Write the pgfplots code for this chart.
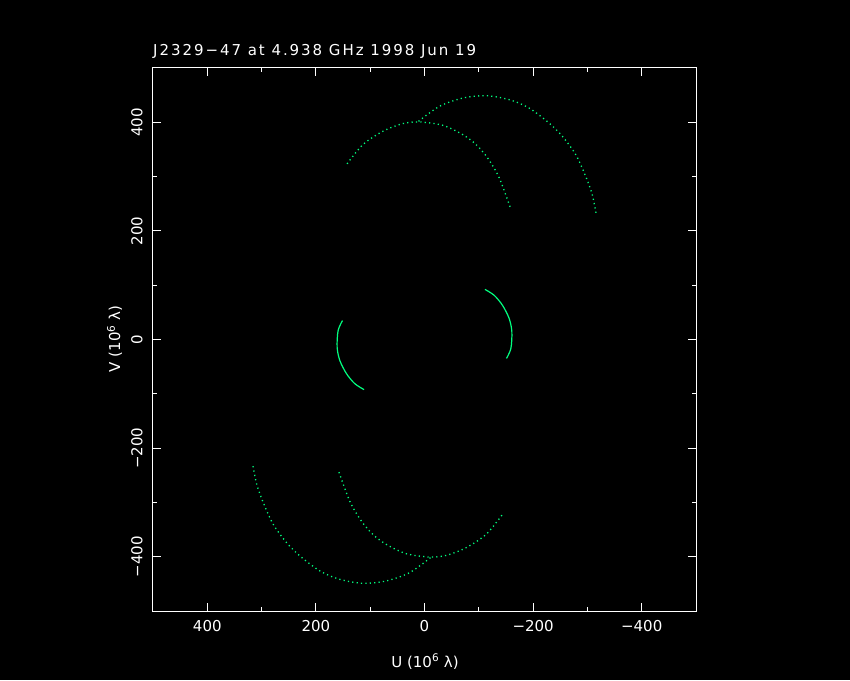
\documentclass[border=0pt]{standalone}
\usepackage{fontspec}
\setmainfont{DejaVu Sans}
\usepackage{pgfplots}
\pgfplotsset{compat=1.18}
\definecolor{uvgreen}{RGB}{0,255,128}

% upper tracks (pixel-read), lower tracks are the conjugate points (-u,-v)
\pgfplotstableread{
u v
142.6 323.5
113.2 359.1
76.5 383.5
39.8 397.6
9.2 400.6
-33.6 394.5
-70.3 377.4
-94.9 359.1
-116.1 334.5
-137.6 297.8
-159.1 239.8
}\arcA
\pgfplotstableread{
u v
-142.6 -323.5
-113.2 -359.1
-76.5 -383.5
-39.8 -397.6
-9.2 -400.6
33.6 -394.5
70.3 -377.4
94.9 -359.1
116.1 -334.5
137.6 -297.8
159.1 -239.8
}\arcAc
\pgfplotstableread{
u v
11.0 401.8
-27.5 429.4
-70.3 444.6
-113.2 449.0
-156.0 441.7
-192.7 426.2
-229.4 398.7
-253.8 374.3
-278.4 340.7
-296.7 300.9
-308.8 267.3
-316.9 227.5
}\arcB
\pgfplotstableread{
u v
-11.0 -401.8
27.5 -429.4
70.3 -444.6
113.2 -449.0
156.0 -441.7
192.7 -426.2
229.4 -398.7
253.8 -374.3
278.4 -340.7
296.7 -300.9
308.8 -267.3
316.9 -227.5
}\arcBc
\pgfplotstableread{
u v
151.0 34.9
159.1 16.5
160.9 -14.1
156.0 -38.5
143.7 -62.9
128.4 -81.3
111.3 -92.3
}\arcC
\pgfplotstableread{
u v
-151.0 -34.9
-159.1 -16.5
-160.9 14.1
-156.0 38.5
-143.7 62.9
-128.4 81.3
-111.3 92.3
}\arcCc

\begin{document}
\begin{tikzpicture}
\useasboundingbox (0,0) rectangle (850pt,680pt);
\fill[black] (0,0) rectangle (850pt,680pt);
\begin{axis}[
    at={(153pt,69pt)}, anchor=south west,
    scale only axis, width=543pt, height=543pt,
    xmin=-500, xmax=500, ymin=-500, ymax=500,
    x dir=reverse,
    axis line style={white, line width=1pt},
    xtick={400,200,0,-200,-400},
    xticklabels={400,200,0,−200,−400},
    ytick={-400,-200,0,200,400},
    yticklabels={−400,−200,0,200,400},
    minor tick num=1,
    tick align=inside,
    xtick pos=both, ytick pos=both,
    xticklabel pos=bottom, yticklabel pos=left,
    major tick length=8pt, minor tick length=4pt,
    every tick/.style={white, line width=1pt},
    ticklabel style={font=\fontsize{15}{18}\selectfont, text=white},
    xticklabel shift=6pt,
    yticklabel style={rotate=90, anchor=south},
    yticklabel shift=7pt,
]
\addplot[uvgreen, line width=1.3pt, dash pattern=on 1.2pt off 3.2pt, smooth] table {\arcA};
\addplot[uvgreen, line width=1.3pt, dash pattern=on 1.2pt off 3.2pt, smooth] table {\arcAc};
\addplot[uvgreen, line width=1.3pt, dash pattern=on 1.2pt off 3.2pt, smooth] table {\arcB};
\addplot[uvgreen, line width=1.3pt, dash pattern=on 1.2pt off 3.2pt, smooth] table {\arcBc};
\addplot[uvgreen, line width=1.2pt, smooth] table {\arcC};
\addplot[uvgreen, line width=1.2pt, smooth] table {\arcCc};
\end{axis}
\node[white, anchor=base west, inner sep=0pt, font=\fontsize{15}{18}\selectfont\addfontfeature{LetterSpace=13}]
    at (153pt,624pt) {J2329−47 at 4.938 GHz 1998 Jun 19};
\node[white, anchor=base, inner sep=0pt, font=\fontsize{15}{18}\selectfont]
    at (425pt,13pt) {U (10\textsuperscript{6} λ)};
\node[white, anchor=base, rotate=90, inner sep=0pt, font=\fontsize{15}{18}\selectfont]
    at (120pt,341pt) {V (10\textsuperscript{6} λ)};
\end{tikzpicture}
\end{document}
